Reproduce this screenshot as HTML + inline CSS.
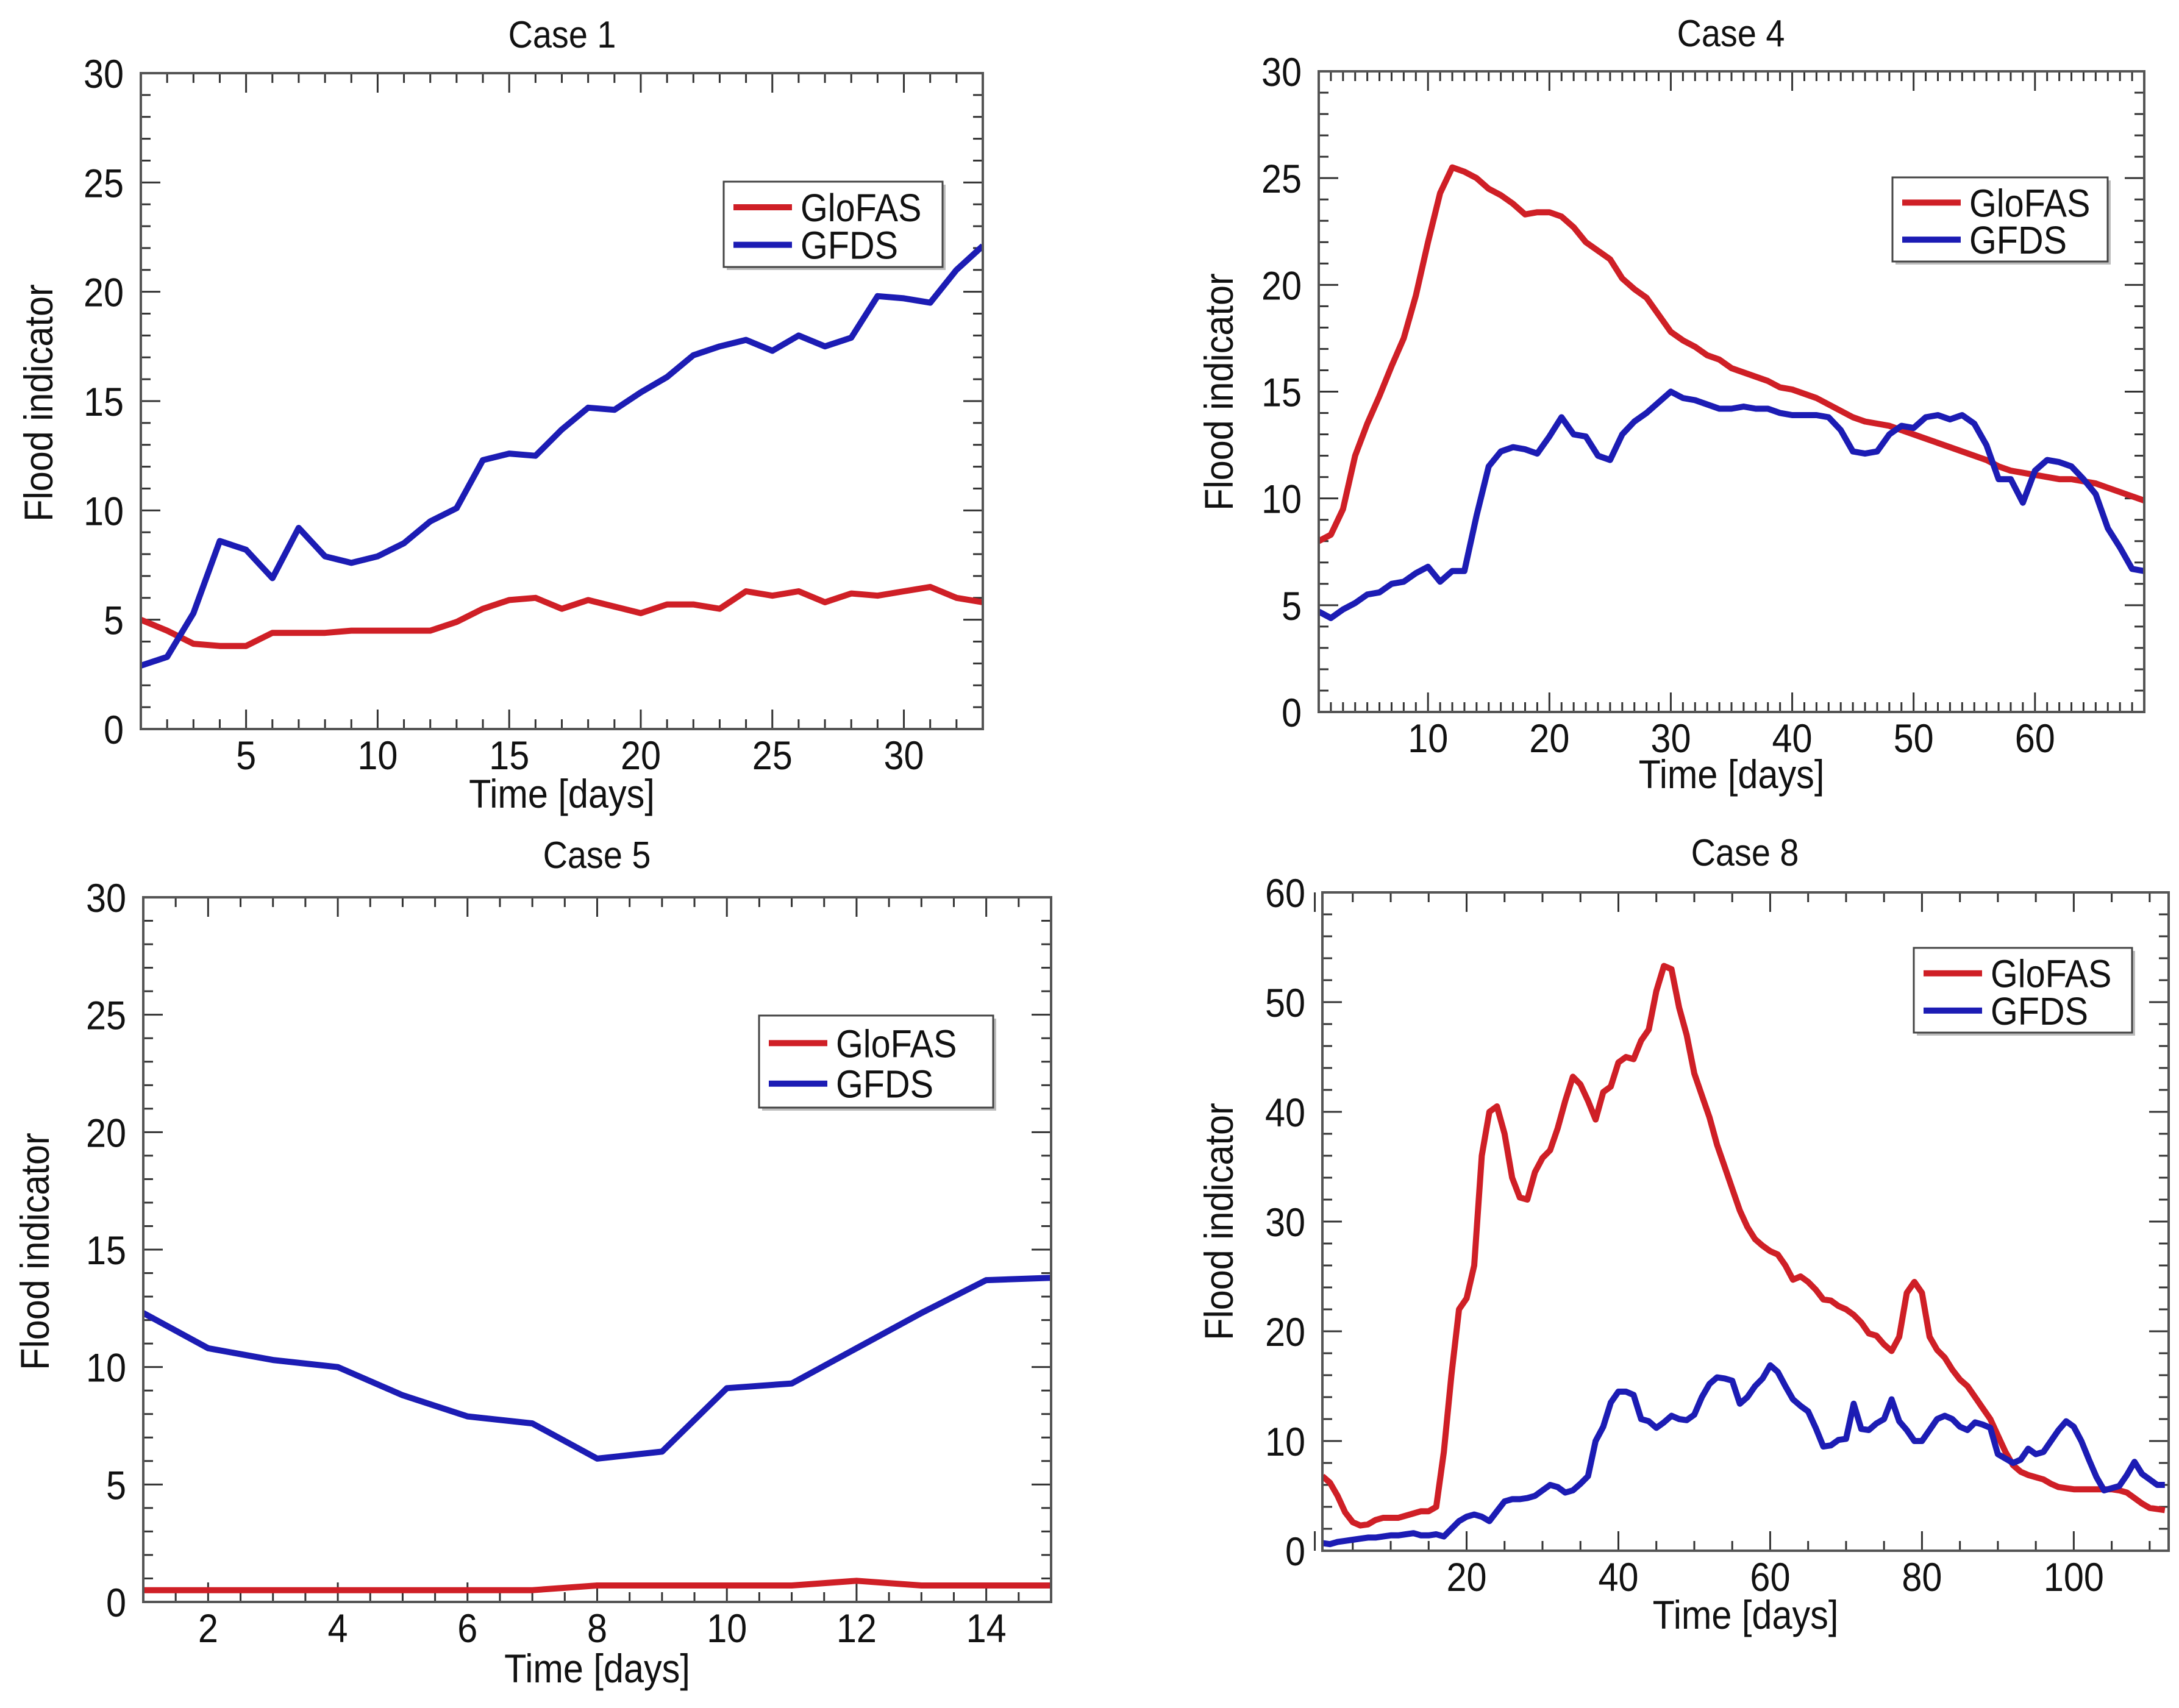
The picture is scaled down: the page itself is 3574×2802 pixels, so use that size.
<!DOCTYPE html>
<html><head><meta charset="utf-8">
<style>
html,body{margin:0;padding:0;background:#fff;}
svg{display:block;}
text{font-family:"Liberation Sans",Arial,sans-serif;fill:#111;}
</style></head>
<body>
<svg id="fig" width="3574" height="2802" viewBox="0 0 3574 2802" xmlns="http://www.w3.org/2000/svg"></svg>
<script>
// ---- Case 1 data ----
const case1Days = [1,2,3,4,5,6,7,8,9,10,11,12,13,14,15,16,17,18,19,20,21,22,23,24,25,26,27,28,29,30,31,32,33];
const case1Glofas = [5.0,4.5,3.9,3.8,3.8,4.4,4.4,4.4,4.5,4.5,4.5,4.5,4.9,5.5,5.9,6.0,5.5,5.9,5.6,5.3,5.7,5.7,5.5,6.3,6.1,6.3,5.8,6.2,6.1,6.3,6.5,6.0,5.8];
const case1Gfds = [2.9,3.3,5.3,8.6,8.2,6.9,9.2,7.9,7.6,7.9,8.5,9.5,10.1,12.3,12.6,12.5,13.7,14.7,14.6,15.4,16.1,17.1,17.5,17.8,17.3,18.0,17.5,17.9,19.8,19.7,19.5,21.0,22.1];
const case1XTicks = [5,10,15,20,25,30];
const case1YTicks = [0,5,10,15,20,25,30];

// ---- Case 4 data ----
const case4Glofas = [8.0,8.3,9.5,12,13.5,14.8,16.2,17.5,19.5,22,24.3,25.5,25.3,25,24.5,24.2,23.8,23.3,23.4,23.4,23.2,22.7,22.0,21.6,21.2,20.3,19.8,19.4,18.6,17.8,17.4,17.1,16.7,16.5,16.1,15.9,15.7,15.5,15.2,15.1,14.9,14.7,14.4,14.1,13.8,13.6,13.5,13.4,13.2,13.0,12.8,12.6,12.4,12.2,12.0,11.8,11.5,11.3,11.2,11.1,11.0,10.9,10.9,10.8,10.7,10.5,10.3,10.1,9.9];
const case4Gfds = [4.7,4.4,4.8,5.1,5.5,5.6,6.0,6.1,6.5,6.8,6.1,6.6,6.6,9.2,11.5,12.2,12.4,12.3,12.1,12.9,13.8,13.0,12.9,12.0,11.8,13.0,13.6,14.0,14.5,15.0,14.7,14.6,14.4,14.2,14.2,14.3,14.2,14.2,14.0,13.9,13.9,13.9,13.8,13.2,12.2,12.1,12.2,13.0,13.4,13.3,13.8,13.9,13.7,13.9,13.5,12.5,10.9,10.9,9.8,11.3,11.8,11.7,11.5,10.9,10.2,8.6,7.7,6.7,6.6];
const case4XTicks = [10,20,30,40,50,60];
const case4YTicks = [0,5,10,15,20,25,30];

// ---- Case 5 data ----
const case5Glofas = [0.5,0.5,0.5,0.5,0.5,0.5,0.5,0.7,0.7,0.7,0.7,0.9,0.7,0.7,0.7];
const case5Gfds = [12.3,10.8,10.3,10.0,8.8,7.9,7.6,6.1,6.4,9.1,9.3,10.8,12.3,13.7,13.8];
const case5XTicks = [2,4,6,8,10,12,14];
const case5YTicks = [0,5,10,15,20,25,30];

// ---- Case 8 data ----
const case8Glofas = [6.8,6.2,5.0,3.5,2.6,2.3,2.4,2.8,3.0,3.0,3.0,3.2,3.4,3.6,3.6,4.0,9,16,22,23,26,36,40,40.5,38,34,32.2,32,34.5,35.8,36.5,38.5,41,43.2,42.5,41,39.3,41.8,42.3,44.5,45,44.8,46.5,47.5,51,53.3,53,49.5,47,43.5,41.5,39.5,37,35,33,31,29.5,28.4,27.8,27.3,27,26,24.7,25,24.5,23.8,22.9,22.8,22.3,22.0,21.5,20.8,19.8,19.6,18.8,18.2,19.5,23.5,24.5,23.5,19.5,18.3,17.6,16.5,15.6,15,14,13,12,10.5,9,7.8,7.2,6.9,6.7,6.5,6.1,5.8,5.7,5.6,5.6,5.6,5.6,5.6,5.6,5.5,5.3,4.8,4.3,3.9,3.8,3.7];
const case8Gfds = [0.7,0.6,0.8,0.9,1.0,1.1,1.2,1.2,1.3,1.4,1.4,1.5,1.6,1.4,1.4,1.5,1.3,2.0,2.7,3.1,3.3,3.1,2.7,3.6,4.5,4.7,4.7,4.8,5.0,5.5,6.0,5.8,5.3,5.5,6.1,6.8,10,11.3,13.5,14.5,14.5,14.2,12,11.8,11.2,11.7,12.3,12.0,11.9,12.4,14.0,15.2,15.8,15.7,15.5,13.4,14.0,15.0,15.7,16.9,16.3,15.0,13.8,13.2,12.7,11.2,9.5,9.6,10.1,10.2,13.4,11.1,11.0,11.6,12.0,13.8,11.8,11.0,10.0,10.0,11.0,12.0,12.3,12.0,11.3,11.0,11.7,11.5,11.2,8.8,8.4,8.0,8.3,9.3,8.8,9.0,10.0,11.0,11.8,11.3,10.0,8.3,6.7,5.5,5.7,5.9,6.9,8.1,7.0,6.5,6.0,6.0];
const case8XTicks = [20,40,60,80,100];
const case8YTicks = [0,10,20,30,40,50,60];

const NS = "http://www.w3.org/2000/svg";
const svg = document.getElementById('fig');
const RED = "#cf1f26", BLUE = "#1c1cb4";
const SX = 0.9;

function mk(tag, attrs, parent){
  const e = document.createElementNS(NS, tag);
  for (const k in attrs) e.setAttribute(k, attrs[k]);
  (parent||svg).appendChild(e);
  return e;
}
function txt(parent, x, y, size, anchor, content, extra){
  const t = mk('text', {x:0, y:0, 'font-size':size, 'text-anchor':anchor,
    transform:'translate('+x+','+y+')'+(extra||'')+' scale('+SX+',1)'}, parent);
  t.textContent = content;
  return t;
}

function panel(p){
  const g = mk('g', {});
  
  
  const xs = v => p.L + (v - p.x0) / (p.x1 - p.x0) * (p.R - p.L);
  const ys = v => p.B - (v - p.y0) / (p.y1 - p.y0) * (p.B - p.T);

  for (let v = p.x0; v <= p.x1 + 1e-9; v += p.xMinor){
    const vv = Math.round(v / p.xMinor) * p.xMinor;
    const isMaj = Math.abs(vv / p.xMajorStep - Math.round(vv / p.xMajorStep)) < 1e-6;
    const len = isMaj ? 32 : 16;
    const x = xs(vv);
    mk('line', {x1:x, y1:p.B, x2:x, y2:p.B-len, stroke:'#333', 'stroke-width':3}, g);
    mk('line', {x1:x, y1:p.T, x2:x, y2:p.T+len, stroke:'#333', 'stroke-width':3}, g);
  }
  for (let v = p.y0; v <= p.y1 + 1e-9; v += p.yMinor){
    const isMaj = Math.abs(v / p.yMajorStep - Math.round(v / p.yMajorStep)) < 1e-6;
    const len = isMaj ? 32 : 16;
    const y = ys(v);
    mk('line', {x1:p.L, y1:y, x2:p.L+len, y2:y, stroke:'#333', 'stroke-width':3}, g);
    mk('line', {x1:p.R, y1:y, x2:p.R-len, y2:y, stroke:'#333', 'stroke-width':3}, g);
  }
  p.xTicks.forEach(v => {
    const t = txt(g, xs(v), p.B+66, 66, 'middle', v);
    
    
  });
  p.yTicks.forEach(v => {
    const t = txt(g, p.L-28, ys(v)+24, 66, 'end', v);
    
    
  });
  const series = [[p.glofas, RED, 'glofas-line'], [p.gfds, BLUE, 'gfds-line']];
  const cp = 'clip-' + p.name;
  const cl = mk('clipPath', {id:cp}, g);
  mk('rect', {x:p.L, y:p.T, width:p.R-p.L, height:p.B-p.T}, cl);
  series.forEach(([arr, col, nm]) => {
    const d = arr.map((v, i) => (i ? 'L' : 'M') + xs(p.x0 + i).toFixed(1) + ',' + ys(v).toFixed(1)).join(' ');
    const path = mk('path', {d:d, fill:'none', stroke:col, 'stroke-width':10, 'stroke-linejoin':'round', 'clip-path':'url(#'+cp+')'}, g);
    
    
  });
  const fr = mk('rect', {x:p.L, y:p.T, width:p.R-p.L, height:p.B-p.T, fill:'none', stroke:'#555', 'stroke-width':4}, g);
  
  
  const ti = txt(g, p.tx, p.ty, 62, 'middle', p.title);
  
  
  const xl = txt(g, (p.L+p.R)/2, p.xly, 66, 'middle', 'Time [days]');
  
  
  const yl = mk('text', {x:0, y:0, 'font-size':66, 'text-anchor':'middle', transform:'translate('+p.ylx+','+p.yly+') rotate(-90) scale('+SX+',1)'}, g);
  yl.textContent = 'Flood indicator';
  
  
  const lg = mk('g', {}, g);
  
  
  mk('rect', {x:p.lg[0]+5, y:p.lg[1]+5, width:p.lg[2]-p.lg[0], height:p.lg[3]-p.lg[1], fill:'#bbb'}, lg);
  mk('rect', {x:p.lg[0], y:p.lg[1], width:p.lg[2]-p.lg[0], height:p.lg[3]-p.lg[1], fill:'#fff', stroke:'#444', 'stroke-width':3}, lg);
  const h = p.lg[3]-p.lg[1];
  [['GloFAS', RED, p.lg[1]+h*0.3], ['GFDS', BLUE, p.lg[1]+h*0.74]].forEach(([lab, col, y]) => {
    const e = mk('g', {}, lg);
    
    
    mk('line', {x1:p.lg[0]+16, y1:y, x2:p.lg[0]+112, y2:y, stroke:col, 'stroke-width':10}, e);
    txt(e, p.lg[0]+126, y+23, 64, 'start', lab);
  });
}

panel({name:'case-1-chart', title:'Case 1', L:231, R:1612, T:120, B:1196, x0:1, x1:33, y0:0, y1:30,
  xMinor:1, xMajorStep:5, yMinor:1, yMajorStep:5, xTicks:case1XTicks, yTicks:case1YTicks,
  glofas:case1Glofas, gfds:case1Gfds, tx:922, ty:78, xly:1325, ylx:86, yly:661, lg:[1187,298,1546,438]});
panel({name:'case-4-chart', title:'Case 4', L:2163, R:3517, T:117, B:1168, x0:1, x1:69, y0:0, y1:30,
  xMinor:1, xMajorStep:10, yMinor:1, yMajorStep:5, xTicks:case4XTicks, yTicks:case4YTicks,
  glofas:case4Glofas, gfds:case4Gfds, tx:2839, ty:76, xly:1293, ylx:2022, yly:643, lg:[3104,291,3457,429]});
panel({name:'case-5-chart', title:'Case 5', L:235, R:1724, T:1472, B:2628, x0:1, x1:15, y0:0, y1:30,
  xMinor:0.5, xMajorStep:2, yMinor:1, yMajorStep:5, xTicks:case5XTicks, yTicks:case5YTicks,
  glofas:case5Glofas, gfds:case5Gfds, tx:979, ty:1424, xly:2760, ylx:80, yly:2053, lg:[1245,1666,1629,1817]});
panel({name:'case-8-chart', title:'Case 8', L:2169, R:3557, T:1464, B:2544, x0:1, x1:112.5, y0:0, y1:60,
  xMinor:5, xMajorStep:20, yMinor:2, yMajorStep:10, xTicks:case8XTicks, yTicks:case8YTicks,
  glofas:case8Glofas, gfds:case8Gfds, tx:2862, ty:1420, xly:2672, ylx:2022, yly:2004, lg:[3139,1555,3497,1694]});
</script>
</body></html>
